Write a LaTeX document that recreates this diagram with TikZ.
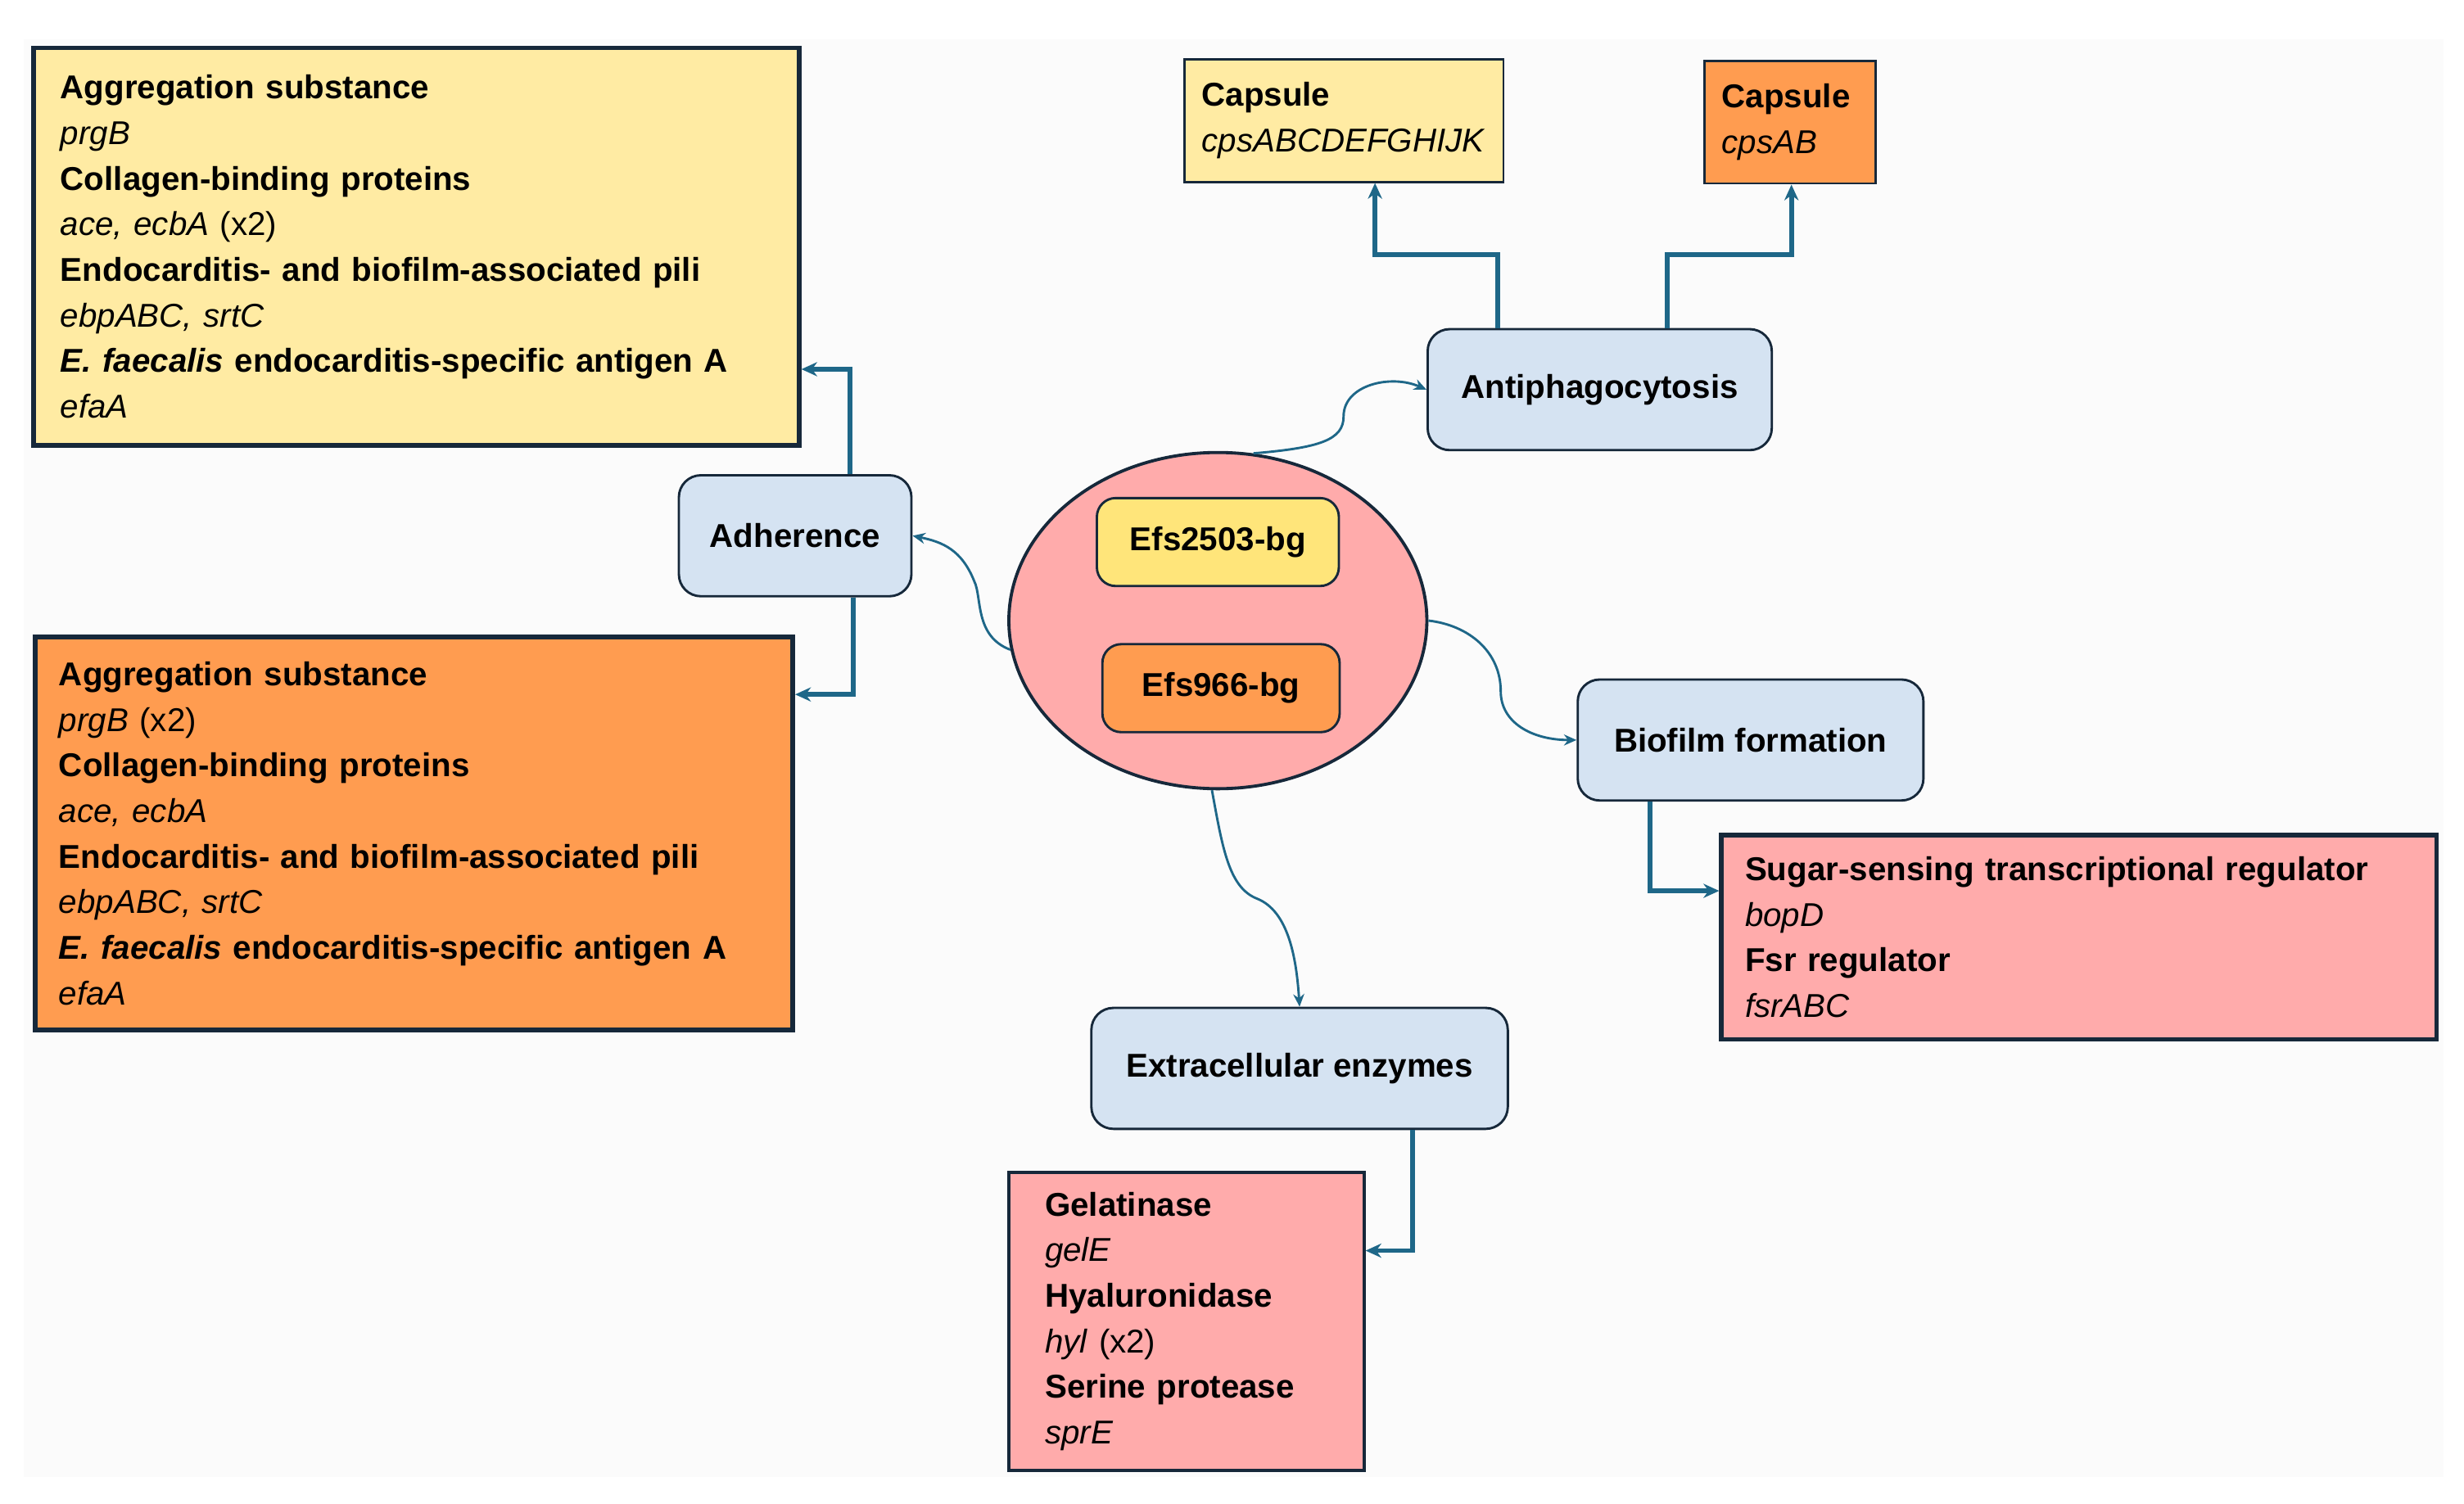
\documentclass[tikz,border=0pt]{standalone}
\usepackage{fontspec}
\setmainfont{Liberation Sans}
\usetikzlibrary{arrows.meta,shapes.geometric}
\definecolor{lyel}{HTML}{FFEBA3}
\definecolor{dyel}{HTML}{FFE57A}
\definecolor{org}{HTML}{FF9C50}
\definecolor{pnk}{HTML}{FFABAB}
\definecolor{lblue}{HTML}{D5E3F2}
\definecolor{edge}{HTML}{16283A}
\definecolor{conn}{HTML}{1E6788}
\tikzset{
  every node/.style={font=\fontsize{21}{29}\selectfont, inner sep=0pt},
  big/.style={draw=edge, line width=3pt, anchor=north west, align=left, inner xsep=17pt, inner ysep=10pt},
  cat/.style={draw=edge, line width=1.5pt, rounded corners=14pt, fill=lblue, font=\fontsize{21}{29}\selectfont\bfseries, minimum height=77pt},
  gen/.style={draw=edge, line width=1.5pt, rounded corners=12pt, font=\fontsize{21}{29}\selectfont\bfseries, minimum height=56pt},
  ortho/.style={draw=conn, line width=3pt, -{Stealth[length=10pt,width=9pt]}},
  curv/.style={draw=conn, line width=1.5pt, -{Stealth[length=8pt,width=7pt]}},
}
\begin{document}
\begin{tikzpicture}[x=1pt,y=-1pt]
\useasboundingbox (0,0) rectangle (1568,957);
\fill[white] (0,0) rectangle (1568,957);
\fill[gray!3] (15,25) rectangle (1555,940);
% big boxes
\node[big, fill=lyel, text width=453pt, minimum height=253pt] (A) at (20,29) {\textbf{Aggregation substance}\\ \textit{prgB}\\ \textbf{Collagen-binding proteins}\\ \textit{ace, ecbA} (x2)\\ \textbf{Endocarditis- and biofilm-associated pili}\\ \textit{ebpABC, srtC}\\ \textbf{\textit{E. faecalis} endocarditis-specific antigen A}\\ \textit{efaA}};
\node[big, fill=org, text width=452pt, minimum height=250pt, inner xsep=15pt] (B) at (21,404) {\textbf{Aggregation substance}\\ \textit{prgB} (x2)\\ \textbf{Collagen-binding proteins}\\ \textit{ace, ecbA}\\ \textbf{Endocarditis- and biofilm-associated pili}\\ \textit{ebpABC, srtC}\\ \textbf{\textit{E. faecalis} endocarditis-specific antigen A}\\ \textit{efaA}};
\node[big, fill=lyel, line width=1.5pt, text width=181pt, minimum height=78pt, inner xsep=11pt] (C1) at (753,37) {\textbf{Capsule}\\ \textit{cpsABCDEFGHIJK}};
\node[big, fill=org, line width=1.5pt, text width=87pt, minimum height=78pt, inner xsep=11pt] (C2) at (1084,38) {\textbf{Capsule}\\ \textit{cpsAB}};
\node[big, fill=pnk, text width=425pt, minimum height=130pt, inner xsep=15pt] (S) at (1094,530) {\textbf{Sugar-sensing transcriptional regulator}\\ \textit{bopD}\\ \textbf{Fsr regulator}\\ \textit{fsrABC}};
\node[big, fill=pnk, line width=2pt, text width=180pt, minimum height=190pt, inner xsep=23pt, inner ysep=6pt] (G) at (641,745) {\textbf{Gelatinase}\\ \textit{gelE}\\ \textbf{Hyaluronidase}\\ \textit{hyl} (x2)\\ \textbf{Serine protease}\\ \textit{sprE}};
% center
\node[ellipse, draw=edge, line width=2pt, fill=pnk, minimum width=266pt, minimum height=214pt] (E) at (775,395) {};
\node[gen, fill=dyel, minimum width=154pt] (E1) at (775,345) {Efs2503-bg};
\node[gen, fill=org, minimum width=151pt] (E2) at (777,438) {Efs966-bg};
% categories
\node[cat, minimum width=148pt] (Ad) at (506,341) {Adherence};
\node[cat, minimum width=219pt] (An) at (1018,248) {Antiphagocytosis};
\node[cat, minimum width=220pt] (Bf) at (1114,471) {Biofilm formation};
\node[cat, minimum width=265pt] (Ex) at (827,680) {Extracellular enzymes};
% connectors
\coordinate (a1) at (541,235); \coordinate (a2) at (543,442);
\draw[ortho] (Ad.north -| a1) |- (A.east |- a1);
\draw[ortho] (Ad.south -| a2) |- (B.east |- a2);
\coordinate (n1) at (953,162); \coordinate (n2) at (875,115);
\coordinate (m1) at (1061,162); \coordinate (m2) at (1140,116);
\draw[ortho] (An.north -| n1) -- (n1) -- (n1 -| n2) -- (C1.south -| n2);
\draw[ortho] (An.north -| m1) -- (m1) -- (m1 -| m2) -- (C2.south -| m2);
\coordinate (b1) at (1050,567);
\draw[ortho] (Bf.south -| b1) |- (S.west |- b1);
\coordinate (x1) at (899,796);
\draw[ortho] (Ex.south -| x1) |- (G.east |- x1);
\draw[curv] (E.188) .. controls (620,405) and (625,380) .. (620,370) .. controls (612,350) and (600,345) .. (Ad.east);
\draw[curv] (E.78) .. controls (840,285) and (855,280) .. (855,265) .. controls (855,245) and (885,238) .. (An.west);
\draw[curv] (E.0) .. controls (935,398) and (955,415) .. (955,440) .. controls (955,460) and (975,471) .. (Bf.west);
\draw[curv] (E.268) .. controls (778,540) and (782,565) .. (800,572) .. controls (820,580) and (825,610) .. (Ex.north);
\end{tikzpicture}
\end{document}
